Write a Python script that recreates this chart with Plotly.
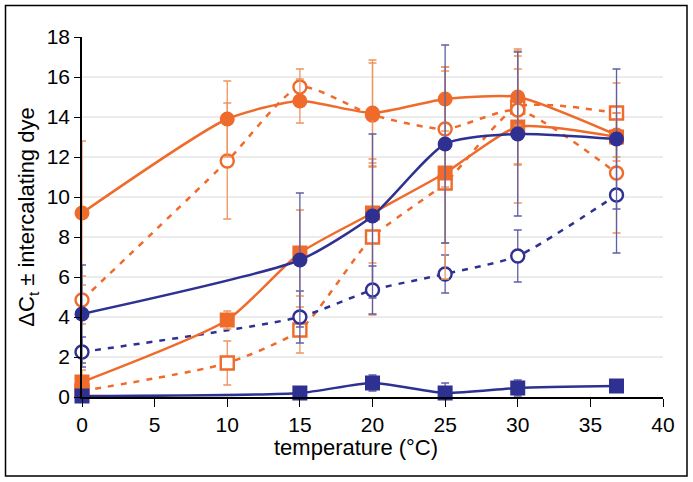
import plotly.graph_objects as go

ORANGE = "#EF6B2B"
BLUE = "#2E3191"
ORANGE_ERR = "#F0945F"
BLUE_ERR = "#5E5FA6"

temps = [0, 10, 15, 20, 25, 30, 36.8]
temps_nb = [0, 15, 20, 25, 30, 36.8]

# orange series
or_circ_filled = [9.2, 13.9, 14.8, 14.2, 14.9, 15.0, 13.1]
or_circ_filled_err = [3.6, 1.9, 1.1, 2.65, 1.6, 1.4, 1.1]
or_circ_open = [4.85, 11.8, 15.5, 14.1, 13.4, 14.35, 11.2]
or_circ_open_err = [1.2, 2.9, 0.9, 2.6, 2.9, 2.7, 3.0]
or_sq_filled = [0.75, 3.85, 7.2, 9.2, 11.2, 13.5, 13.0]
or_sq_filled_err = [0.6, 0.45, 2.15, 2.5, 5.3, 3.8, 1.2]
or_sq_open = [0.3, 1.7, 3.35, 8.0, 10.7, 14.5, 14.2]
or_sq_open_err = [0.4, 1.1, 1.15, 3.9, 3.0, 2.9, 1.5]

# blue series
bl_circ_filled = [4.15, 6.85, 9.05, 12.65, 13.15, 12.9]
bl_circ_filled_err = [2.45, 3.35, 4.1, 4.95, 4.1, 3.5]
bl_circ_open = [2.25, 4.0, 5.35, 6.15, 7.05, 10.1]
bl_circ_open_err = [0.75, 1.3, 1.2, 0.95, 1.3, 2.9]
bl_sq_filled = [0.05, 0.2, 0.7, 0.2, 0.45, 0.55]
bl_sq_filled_err = [0.3, 0.3, 0.4, 0.5, 0.4, 0.2]

y_ticks = [0, 2, 4, 6, 8, 10, 12, 14, 16, 18]
x_ticks = [0, 5, 10, 15, 20, 25, 30, 35, 40]
grid_vals = [2, 4, 6, 8, 10, 12, 14, 16]
x_title = "temperature (°C)"
y_title = "ΔC<sub>t</sub> ± intercalating dye"

fig = go.Figure()


def add(x, y, err, color, ecolor, symbol, filled, dash):
    fig.add_trace(go.Scatter(
        x=x, y=y, mode="lines+markers",
        line=dict(color=color, width=2.5, dash=dash, shape="spline", smoothing=0.6),
        marker=dict(symbol=symbol, size=15 if filled else 13,
                    color=color if filled else "white",
                    line=dict(color=color, width=0 if filled else 2.4)),
        error_y=dict(type="data", array=err, visible=True, color=ecolor,
                     thickness=1.3, width=4),
        showlegend=False,
        cliponaxis=False,
        hoverinfo="skip",
    ))


DASH = "6px,7px"
add(temps, or_sq_open, or_sq_open_err, ORANGE, ORANGE_ERR, "square", False, DASH)
add(temps, or_circ_open, or_circ_open_err, ORANGE, ORANGE_ERR, "circle", False, DASH)
add(temps_nb, bl_circ_open, bl_circ_open_err, BLUE, BLUE_ERR, "circle", False, DASH)
add(temps, or_sq_filled, or_sq_filled_err, ORANGE, ORANGE_ERR, "square", True, "solid")
add(temps, or_circ_filled, or_circ_filled_err, ORANGE, ORANGE_ERR, "circle", True, "solid")
add(temps_nb, bl_circ_filled, bl_circ_filled_err, BLUE, BLUE_ERR, "circle", True, "solid")
add(temps_nb, bl_sq_filled, bl_sq_filled_err, BLUE, BLUE_ERR, "square", True, "solid")

shapes = []
for g in grid_vals:
    shapes.append(dict(type="line", xref="paper", yref="y", x0=0, x1=1, y0=g, y1=g,
                       line=dict(color="#D9D9D9", width=1), layer="below"))
# outer frame
L, R, T, B = 82, 30, 37, 85
W, H = 693, 482
pw, ph = W - L - R, H - T - B
shapes.append(dict(type="rect", xref="paper", yref="paper",
                   x0=(5.5 - L) / pw, x1=(687 - L) / pw,
                   y0=(H - B - 476) / ph, y1=(H - B - 5.5) / ph,
                   line=dict(color="black", width=1.5), layer="above"))

fig.update_layout(
    width=W, height=H,
    margin=dict(l=L, r=R, t=T, b=B),
    paper_bgcolor="white", plot_bgcolor="white",
    font=dict(family="Liberation Sans, Arial, sans-serif", size=21, color="black"),
    shapes=shapes,
    annotations=[dict(text=x_title, xref="paper", yref="paper",
                      x=(356 - L) / pw, y=(H - B - 447) / ph,
                      xanchor="center", yanchor="middle", showarrow=False,
                      font=dict(size=22))],
    xaxis=dict(range=[0, 40], tickvals=x_ticks, showgrid=False, zeroline=False,
               showline=True, linecolor="black", linewidth=1.5, automargin=False,
               ticks="outside", ticklen=8, tickcolor="black", tickwidth=1.2,
               tickfont=dict(size=21)),
    yaxis=dict(range=[0, 18], tickvals=y_ticks, showgrid=False, zeroline=False,
               showline=True, linecolor="black", linewidth=1.5, automargin=False,
               ticks="outside", ticklen=6, tickcolor="black", tickwidth=1.2,
               tickfont=dict(size=21),
               title=dict(text=y_title, font=dict(size=22), standoff=6)),
)

fig.write_html("out.html", post_script="document.body.style.margin='0';",
               config={"displayModeBar": False})
